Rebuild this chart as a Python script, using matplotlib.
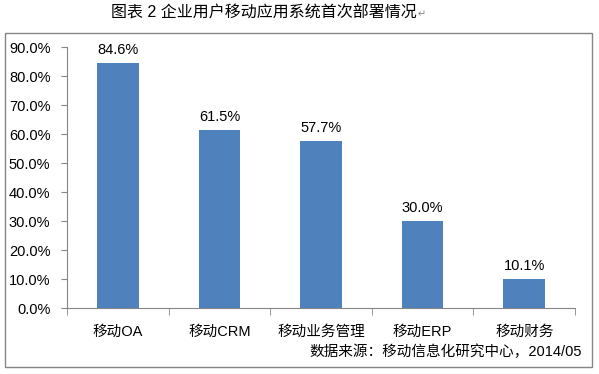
import matplotlib.pyplot as plt
from matplotlib.patches import Rectangle
from matplotlib.ticker import FuncFormatter, MultipleLocator

plt.rcParams['font.family'] = ['Liberation Sans', 'Noto Sans CJK SC', 'DejaVu Sans']

categories = ['移动OA', '移动CRM', '移动业务管理', '移动ERP', '移动财务']
values = [84.6, 61.5, 57.7, 30.0, 10.1]
title = '图表 2 企业用户移动应用系统首次部署情况'
source = '数据来源：移动信息化研究中心，2014/05'

bar_color = '#4F81BD'

fig = plt.figure(figsize=(5.99, 3.74), dpi=100)
ax = fig.add_axes([0.112, 0.176, 0.848, 0.698])

x = range(len(categories))
ax.bar(x, values, width=0.41, color=bar_color, zorder=2)
for i, v in zip(x, values):
    ax.text(i, v + 2.0, f'{v:.1f}%', ha='center', va='bottom', fontsize=10.5)

ax.set_xlim(-0.5, len(categories) - 0.5)
ax.set_ylim(0, 90)
ax.yaxis.set_major_locator(MultipleLocator(10))
ax.yaxis.set_major_formatter(FuncFormatter(lambda v, p: f'{v:.1f}%'))
ax.tick_params(axis='y', labelsize=10.5, length=4, color='#868686', pad=8)

ax.set_xticks(list(x))
ax.set_xticklabels(categories, fontsize=10.5)
ax.set_xticks([i - 0.5 for i in range(len(categories) + 1)], minor=True)
ax.tick_params(axis='x', which='major', length=0, pad=12)
ax.tick_params(axis='x', which='minor', length=5, color='#868686')

for s in ['top', 'right']:
    ax.spines[s].set_visible(False)
for s in ['left', 'bottom']:
    ax.spines[s].set_color('#868686')

# chart frame
fig.patches.append(Rectangle((0.009, 0.02), 0.979, 0.893, transform=fig.transFigure,
                             fill=False, edgecolor='#868686', linewidth=1.0))

t = fig.text(0.44, 0.965, title, ha='center', va='center', fontsize=11.5)
fig.text(0.697, 0.962, '↵', ha='left', va='center', fontsize=7, color='#888888',
         family=['DejaVu Sans'])
fig.text(0.972, 0.058, source, ha='right', va='center', fontsize=10.5)

fig.savefig('out.png', dpi=100)
